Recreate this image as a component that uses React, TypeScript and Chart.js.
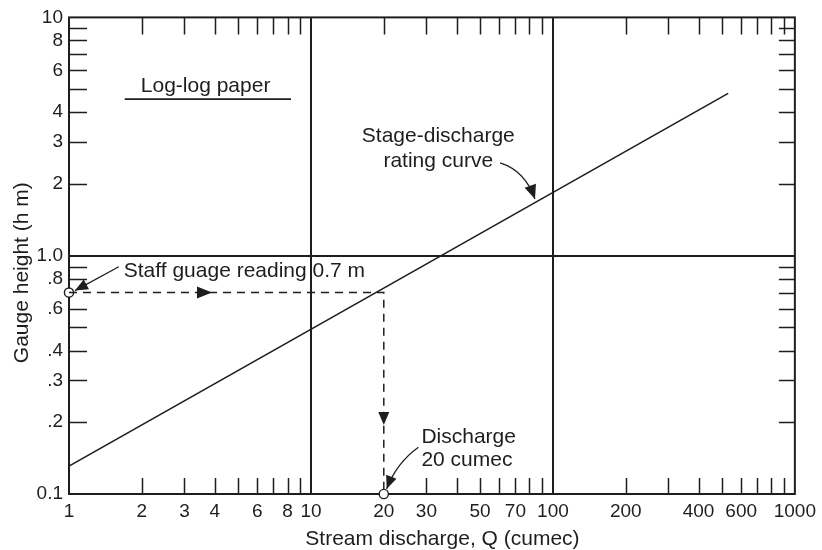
import React, { useEffect, useRef } from 'react';
import { Chart, registerables } from 'chart.js';

Chart.register(...registerables);

// ---- data ----
const X_LABELS = [1, 2, 3, 4, 6, 8, 10, 20, 30, 50, 70, 100, 200, 400, 600, 1000];
const X_MAJOR_GRID = [10, 100];
const X_MINOR_TICKS = [2, 3, 4, 5, 6, 7, 8, 9, 20, 30, 40, 50, 60, 70, 80, 90, 200, 300, 400, 500, 600, 700, 800, 900];
const X_BOTTOM_SKIP = [20];

const Y_LABEL_VALUES = [0.1, 0.2, 0.3, 0.4, 0.6, 0.8, 1, 2, 3, 4, 6, 8, 10];
const Y_LABEL_TEXT = ['0.1', '.2', '.3', '.4', '.6', '.8', '1.0', '2', '3', '4', '6', '8', '10'];
const Y_MAJOR_GRID = [1];
const Y_MINOR_TICKS = [0.2, 0.3, 0.4, 0.5, 0.6, 0.7, 0.8, 0.9, 2, 3, 4, 5, 6, 7, 8, 9];
const Y_LEFT_SKIP = [0.7];

const RATING_Q = [1, 530];
const RATING_H = [0.131, 4.8];
const READING_Q = [1, 20, 20];
const READING_H = [0.7, 0.7, 0.1];
const MARKER_Q = [1, 20];
const MARKER_H = [0.7, 0.1];

const X_TITLE = 'Stream discharge, Q (cumec)';
const Y_TITLE = 'Gauge height (h m)';

const FONT = '"Liberation Sans", Arial, Helvetica, sans-serif';
const INK = '#1e1e1e';

const near = (a: number, b: number) => Math.abs(a - b) < 1e-9 * Math.max(1, Math.abs(b));

function arrowHead(ctx: CanvasRenderingContext2D, tx: number, ty: number, angle: number, len: number, width: number) {
  ctx.save();
  ctx.translate(tx, ty);
  ctx.rotate(angle);
  ctx.beginPath();
  ctx.moveTo(0, 0);
  ctx.lineTo(-len, -width / 2);
  ctx.lineTo(-len, width / 2);
  ctx.closePath();
  ctx.fillStyle = INK;
  ctx.fill();
  ctx.restore();
}

const decorPlugin = {
  id: 'decor',
  beforeDatasetsDraw(chart: any) {
    const { ctx, chartArea: a, scales } = chart;
    const xs = scales.x;
    const ys = scales.y;
    ctx.save();
    ctx.strokeStyle = INK;
    ctx.lineWidth = 1.5;
    ctx.beginPath();
    for (const v of X_MINOR_TICKS) {
      const px = Math.round(xs.getPixelForValue(v)) + 0.5;
      if (!X_BOTTOM_SKIP.some((s) => near(s, v))) {
        ctx.moveTo(px, a.bottom);
        ctx.lineTo(px, a.bottom - 16);
      }
      ctx.moveTo(px, a.top);
      ctx.lineTo(px, a.top + 17);
    }
    for (const v of Y_MINOR_TICKS) {
      const py = Math.round(ys.getPixelForValue(v)) + 0.5;
      if (!Y_LEFT_SKIP.some((s) => near(s, v))) {
        ctx.moveTo(a.left, py);
        ctx.lineTo(a.left + 18, py);
      }
      ctx.moveTo(a.right, py);
      ctx.lineTo(a.right - 16, py);
    }
    ctx.stroke();
    ctx.lineWidth = 2;
    ctx.strokeRect(a.left, a.top, a.right - a.left, a.bottom - a.top);
    ctx.restore();
  },
  afterDatasetsDraw(chart: any) {
    const { ctx, chartArea: a, scales } = chart;
    const xs = scales.x;
    const ys = scales.y;
    const P = (q: number, h: number) => [xs.getPixelForValue(q), ys.getPixelForValue(h)];
    ctx.save();
    ctx.fillStyle = INK;
    ctx.strokeStyle = INK;
    ctx.font = `21px ${FONT}`;
    ctx.textBaseline = 'middle';

    // Log-log paper
    ctx.textAlign = 'left';
    let p = P(1.98, 5.15);
    ctx.fillText('Log-log paper', p[0], p[1]);
    const u1 = P(1.7, 4.54);
    const u2 = P(8.27, 4.54);
    ctx.lineWidth = 1.6;
    ctx.beginPath();
    ctx.moveTo(u1[0], u1[1]);
    ctx.lineTo(u2[0], u2[1]);
    ctx.stroke();

    // Staff gauge reading
    p = P(1.684, 0.865);
    ctx.fillText('Staff guage reading 0.7 m', p[0], p[1]);
    const s0 = P(1.606, 0.899);
    const s1 = P(1.058, 0.714);
    ctx.lineWidth = 1.3;
    ctx.beginPath();
    ctx.moveTo(s0[0], s0[1]);
    ctx.lineTo(s1[0], s1[1]);
    ctx.stroke();
    arrowHead(ctx, s1[0], s1[1], Math.atan2(s1[1] - s0[1], s1[0] - s0[0]), 13, 11);

    // Arrows on reading path
    p = P(3.9, 0.7);
    arrowHead(ctx, p[0], p[1], 0, 15, 12);
    p = P(20, 0.195);
    arrowHead(ctx, p[0], p[1], Math.PI / 2, 13, 11);

    // Stage-discharge rating curve
    ctx.textAlign = 'center';
    p = P(33.6, 3.18);
    ctx.fillText('Stage-discharge', p[0], p[1]);
    p = P(33.6, 2.5);
    ctx.fillText('rating curve', p[0], p[1]);
    const c0 = P(60.5, 2.45);
    const cc = P(76.7, 2.27);
    const c1 = P(84.3, 1.73);
    ctx.beginPath();
    ctx.moveTo(c0[0], c0[1]);
    ctx.quadraticCurveTo(cc[0], cc[1], c1[0], c1[1]);
    ctx.stroke();
    arrowHead(ctx, c1[0], c1[1], Math.atan2(c1[1] - cc[1], c1[0] - cc[0]), 14, 12);

    // Discharge 20 cumec
    ctx.textAlign = 'left';
    p = P(28.6, 0.173);
    ctx.fillText('Discharge', p[0], p[1]);
    p = P(28.6, 0.1388);
    ctx.fillText('20 cumec', p[0], p[1]);
    const d0 = P(27.8, 0.157);
    const dc = P(22.6, 0.135);
    const d1 = P(20.55, 0.105);
    ctx.beginPath();
    ctx.moveTo(d0[0], d0[1]);
    ctx.quadraticCurveTo(dc[0], dc[1], d1[0], d1[1]);
    ctx.stroke();
    arrowHead(ctx, d1[0], d1[1], Math.atan2(d1[1] - dc[1], d1[0] - dc[0]), 13, 11);

    // Axis titles
    ctx.textAlign = 'center';
    ctx.fillText(X_TITLE, (a.left + a.right) / 2 + 10.5, a.bottom + 45);
    ctx.save();
    ctx.translate(22, (a.top + a.bottom) / 2 + 17);
    ctx.rotate(-Math.PI / 2);
    ctx.fillText(Y_TITLE, 0, 0);
    ctx.restore();
    ctx.restore();
  },
};

export default function App() {
  const ref = useRef<HTMLCanvasElement | null>(null);
  useEffect(() => {
    if (!ref.current) return;
    const toPts = (xs: number[], ys: number[]) => xs.map((x, i) => ({ x, y: ys[i] }));
    const chart = new Chart(ref.current, {
      type: 'scatter',
      data: {
        datasets: [
          {
            label: 'Rating curve',
            data: toPts(RATING_Q, RATING_H),
            showLine: true,
            borderColor: INK,
            borderWidth: 1.6,
            pointRadius: 0,
          },
          {
            label: 'Reading',
            data: toPts(READING_Q, READING_H),
            showLine: true,
            borderColor: INK,
            borderWidth: 1.5,
            borderDash: [8, 6],
            pointRadius: 0,
          },
          {
            label: 'Markers',
            data: toPts(MARKER_Q, MARKER_H),
            showLine: false,
            pointRadius: 4.6,
            pointBackgroundColor: '#ffffff',
            pointBorderColor: INK,
            pointBorderWidth: 1.4,
            clip: false,
          } as any,
        ],
      },
      options: {
        animation: false,
        responsive: false,
        devicePixelRatio: 1,
        layout: { padding: { left: 0, top: 16, right: 24, bottom: 0 } },
        plugins: { legend: { display: false }, tooltip: { enabled: false }, title: { display: false } },
        scales: {
          x: {
            type: 'logarithmic',
            min: 1,
            max: 1000,
            afterBuildTicks: (scale: any) => {
              scale.ticks = X_LABELS.map((v) => ({ value: v }));
            },
            afterFit: (scale: any) => {
              scale.height = 56;
            },
            grid: {
              drawTicks: false,
              lineWidth: 2,
              color: (c: any) => (c.tick && X_MAJOR_GRID.some((v) => near(v, c.tick.value)) ? INK : 'rgba(0,0,0,0)'),
            },
            border: { display: false },
            ticks: {
              autoSkip: false,
              maxRotation: 0,
              minRotation: 0,
              padding: 6,
              color: INK,
              font: { family: FONT, size: 19 },
              callback: (v: any) => {
                const i = X_LABELS.findIndex((x) => near(x, Number(v)));
                return i >= 0 ? String(X_LABELS[i]) : '';
              },
            },
          },
          y: {
            type: 'logarithmic',
            min: 0.1,
            max: 10,
            afterBuildTicks: (scale: any) => {
              scale.ticks = Y_LABEL_VALUES.map((v) => ({ value: v }));
            },
            afterFit: (scale: any) => {
              scale.width = 69;
            },
            grid: {
              drawTicks: false,
              lineWidth: 2,
              color: (c: any) => (c.tick && Y_MAJOR_GRID.some((v) => near(v, c.tick.value)) ? INK : 'rgba(0,0,0,0)'),
            },
            border: { display: false },
            ticks: {
              autoSkip: false,
              padding: 6,
              color: INK,
              font: { family: FONT, size: 19 },
              callback: (v: any) => {
                const i = Y_LABEL_VALUES.findIndex((y) => near(y, Number(v)));
                return i >= 0 ? Y_LABEL_TEXT[i] : '';
              },
            },
          },
        },
      },
      plugins: [decorPlugin],
    } as any);
    return () => chart.destroy();
  }, []);
  return (
    <div style={{ position: 'fixed', left: 0, top: 0, width: 822, height: 550, background: '#ffffff' }}>
      <canvas ref={ref} width={822} height={550} style={{ display: 'block', width: 822, height: 550 }} />
    </div>
  );
}
